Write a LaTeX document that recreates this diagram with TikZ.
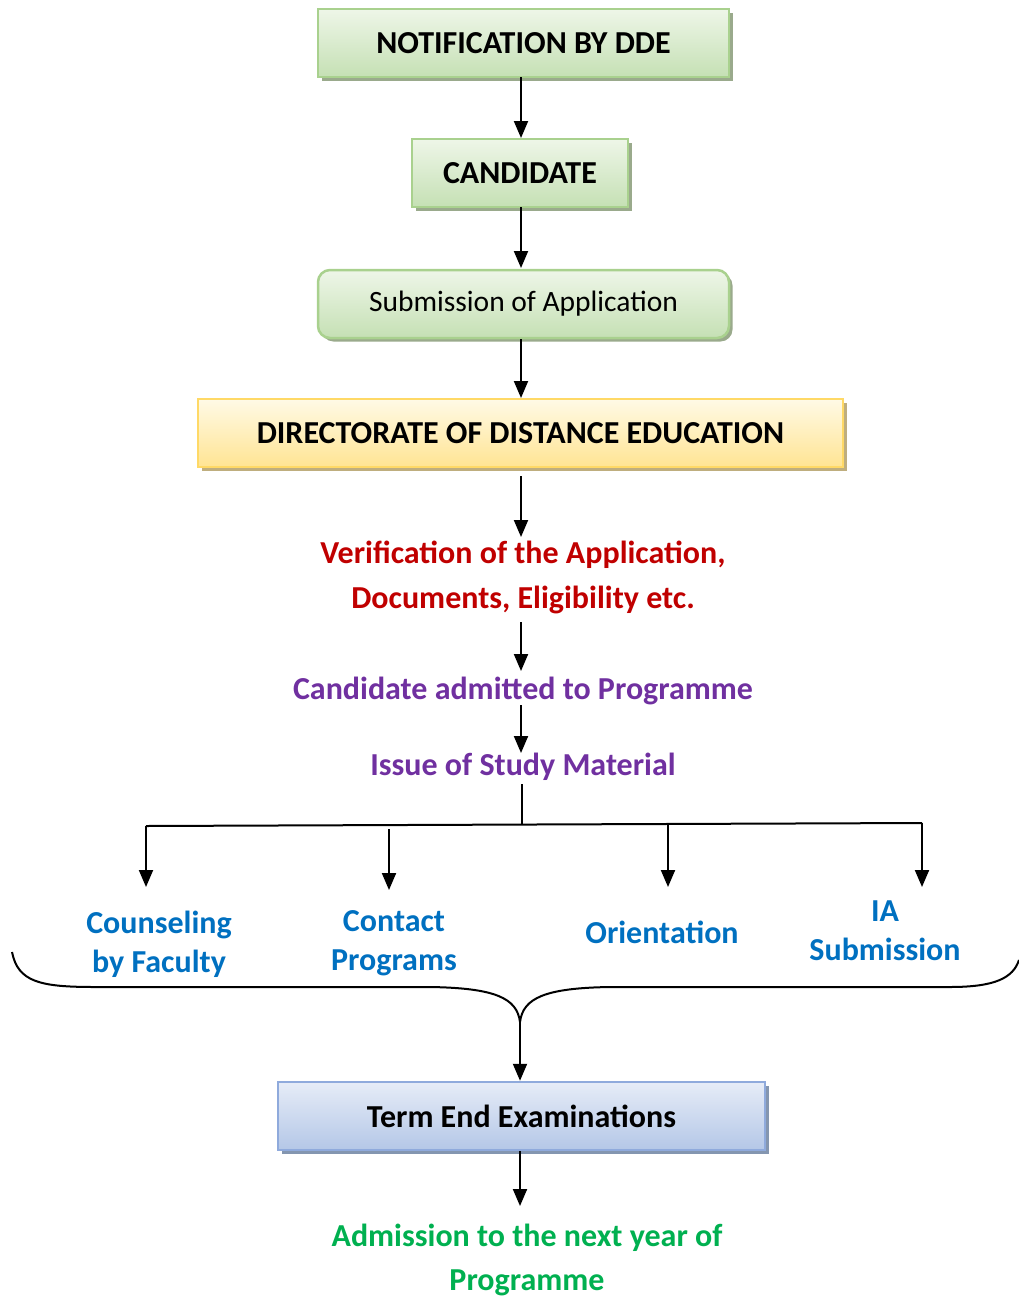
\documentclass[tikz,border=0pt]{standalone}
\usepackage{fontspec}
\setmainfont{Carlito}
\usetikzlibrary{arrows.meta,positioning,shadows,calc}

\definecolor{grnline}{HTML}{A9D18E}
\definecolor{grntop}{HTML}{EEF6E8}
\definecolor{grnbot}{HTML}{C5E0B4}
\definecolor{grnshad}{HTML}{9AAA8C}
\definecolor{ylwline}{HTML}{FFD966}
\definecolor{ylwtop}{HTML}{FFFAE6}
\definecolor{ylwbot}{HTML}{FFE493}
\definecolor{ylwshad}{HTML}{BFAE7E}
\definecolor{blueline}{HTML}{8FAADC}
\definecolor{bluetop}{HTML}{E6ECF7}
\definecolor{bluebot}{HTML}{B4C7E7}
\definecolor{blueshad}{HTML}{8496B0}
\definecolor{stepred}{HTML}{C00000}
\definecolor{steppurple}{HTML}{7030A0}
\definecolor{stepblue}{HTML}{0070C0}
\definecolor{stepgreen}{HTML}{00B050}

\tikzset{
  stagebox/.style={line width=2.5pt, minimum height=68pt, font=\fontsize{32}{36}\selectfont\bfseries},
  greenbox/.style={stagebox, draw=grnline, top color=grntop, bottom color=grnbot,
    drop shadow={shadow xshift=3.5pt, shadow yshift=-3.5pt, opacity=1, fill=grnshad}},
  yellowbox/.style={stagebox, draw=ylwline, top color=ylwtop, bottom color=ylwbot,
    drop shadow={shadow xshift=3.5pt, shadow yshift=-3.5pt, opacity=1, fill=ylwshad}},
  bluebox/.style={stagebox, draw=blueline, top color=bluetop, bottom color=bluebot,
    drop shadow={shadow xshift=3.5pt, shadow yshift=-3.5pt, opacity=1, fill=blueshad}},
  steptext/.style={font=\fontsize{32}{45}\selectfont\bfseries, align=center},
  branch/.style={font=\fontsize{32}{39}\selectfont\bfseries, align=center, text=stepblue},
  flow/.style={line width=2pt, -{Triangle[length=17pt,width=14pt]}},
}

\begin{document}
\begin{tikzpicture}[x=1pt, y=-1pt]
\useasboundingbox (0,0) rectangle (1019,1296);

% boxes at the top
\node[greenbox, minimum width=411pt] (notify) at (523.5,43) {NOTIFICATION BY DDE};
\node[greenbox, minimum width=216pt] (cand) at (520,173) {CANDIDATE};
\node[greenbox, minimum width=411pt, rounded corners=12pt, font=\fontsize{29.5}{34}\selectfont] (submit) at (523.5,304) {Submission of Application};
\node[yellowbox, minimum width=645pt] (dde) at (520.5,433) {DIRECTORATE OF DISTANCE EDUCATION};

% steps in coloured text
\node[steptext, text=stepred] (verify) at (523,577) {Verification of the Application,\\Documents, Eligibility etc.};
\node[steptext, text=steppurple] (admit) at (523,691) {Candidate admitted to Programme};
\node[steptext, text=steppurple] (issue) at (523,767) {Issue of Study Material};

\draw[flow] (521,77) -- (521,138);
\draw[flow] (521,207) -- (521,268);
\draw[flow] (521,339) -- (521,398);
\draw[flow] (521,476) -- (521,537);
\draw[flow] (521,622) -- (521,671);
\draw[flow] (521,705) -- (521,753);

% split into four
\coordinate (split) at (522,825);
\coordinate (bl) at (146,826);
\coordinate (br) at (922,823);
\draw[line width=2pt] (522,784) -- (split);
\draw[line width=2pt] (bl) -- (br);

\node[branch] (counsel) at (159,944) {Counseling\\by Faculty};
\node[branch] (contact) at (394,943) {Contact\\Programs};
\node[branch] (orient) at (662,932) {Orientation};
\node[branch] (ia) at (885,931) {IA\\Submission};

\draw[flow] (bl) -- (146,887);
\draw[flow] (389,829) -- (389,890);
\draw[flow] (668,825) -- (668,887);
\draw[flow] (br) -- (922,887);

% brace under the branches
\coordinate (tip) at (520,1022);
\draw[line width=2pt] (12,952) .. controls (18,982) and (40,987) .. (95,987)
  -- (430,987) .. controls (495,988) and (517,998) .. (tip)
  .. controls (523,998) and (545,988) .. (610,987)
  -- (950,987) .. controls (995,987) and (1013,978) .. (1019,960);

\node[bluebox, minimum width=487pt] (exam) at (521.5,1116) {Term End Examinations};
\draw[flow] (tip) -- (tip |- exam.north);

\node[steptext, text=stepgreen, font=\fontsize{32}{44}\selectfont\bfseries] (next) at (527,1260) {Admission to the next year of\\Programme};
\coordinate (nexttop) at (520,1206);
\draw[flow] (nexttop |- exam.south) -- (nexttop);
\end{tikzpicture}
\end{document}
